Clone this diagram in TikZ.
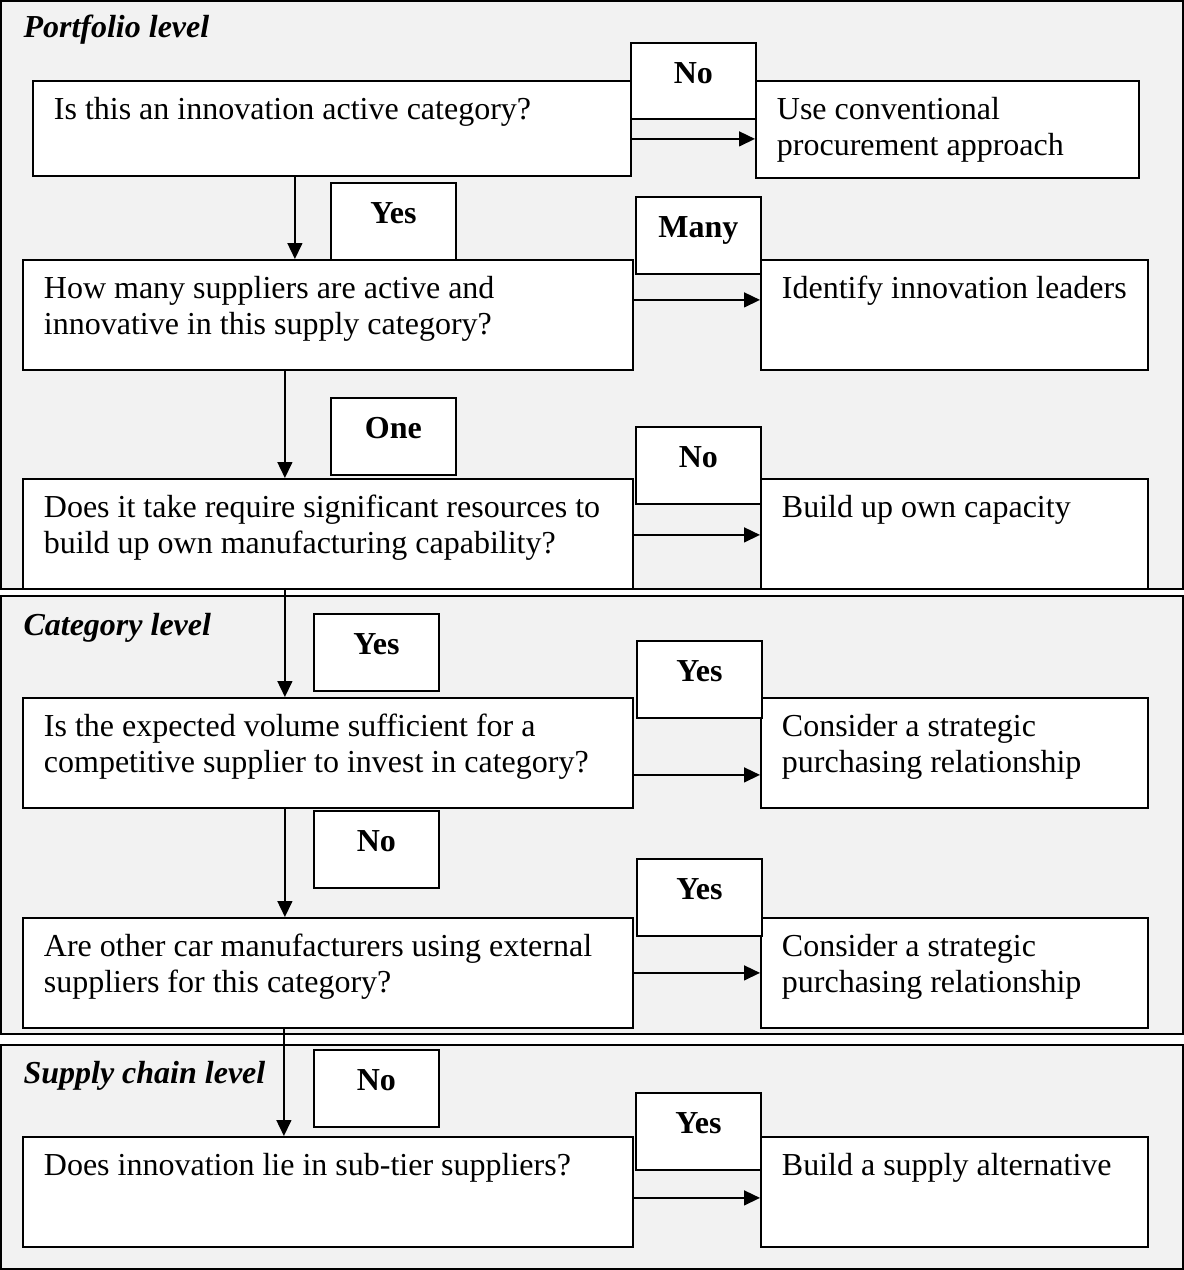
\documentclass[tikz,border=0pt]{standalone}
\usepackage{fontspec}
\setmainfont{Liberation Serif}
\usetikzlibrary{arrows.meta}
\definecolor{panelgray}{HTML}{F2F2F2}
\begin{document}
\begin{tikzpicture}[x=1pt, y=-1pt,
      every node/.style={font=\fontsize{32}{36}\selectfont},
      panel/.style={draw, fill=panelgray, line width=1.5pt},
      levelname/.style={anchor=base west, font=\fontsize{32}{36}\selectfont\bfseries\itshape},
      question/.style={draw, fill=white, line width=1.8pt, anchor=north west, inner xsep=21pt,
        inner ysep=0pt, align=flush left, text width=568pt, text height=39pt, text depth=71pt},
      answer/.style={question, text width=345pt},
      choice/.style={draw, fill=white, line width=1.8pt, anchor=north west, inner sep=0pt,
        align=flush center, text width=125pt, text height=41pt, text depth=36pt,
        font=\fontsize{32}{36}\selectfont\bfseries},
      flow/.style={-{Triangle[length=16pt,width=15pt]}, line width=1.5pt}
    ]
    \useasboundingbox (0,0) rectangle (1184,1270);

    % Level panels
    \draw[panel] (1,1) rectangle (1183,589);
    \draw[panel] (1,596) rectangle (1183,1034);
    \draw[panel] (1,1045) rectangle (1183,1269);
    \node[levelname] (lv1) at (20,37) {Portfolio level};
    \node[levelname] (lv2) at (20,635) {Category level};
    \node[levelname] (lv3) at (20,1083) {Supply chain level};

    % Portfolio level
    \node[question, text width=556pt, text depth=56pt] (q1) at (32,80)
      {Is this an innovation active category?};
    \node[answer, text width=341pt, text depth=58pt] (a1) at (755,80)
      {Use conventional\\procurement approach};
    \node[question] (q2) at (22,259) {How many suppliers are active and\\innovative in this supply category?};
    \node[answer] (a2) at (760,259) {\mbox{Identify innovation leaders}};
    \node[question] (q3) at (22,478) {Does it take require significant resources to\\build up own manufacturing capability?};
    \node[answer] (a3) at (760,478) {Build up own capacity};

    % Category level
    \node[question] (q4) at (22,697) {Is the expected volume sufficient for a\\\mbox{competitive supplier to invest in category?}};
    \node[answer] (a4) at (760,697) {Consider a strategic\\purchasing relationship};
    \node[question] (q5) at (22,917) {Are other car manufacturers using external\\suppliers for this category?};
    \node[answer] (a5) at (760,917) {Consider a strategic\\purchasing relationship};

    % Supply chain level
    \node[question] (q6) at (22,1136) {Does innovation lie in sub-tier suppliers?};
    \node[answer] (a6) at (760,1136) {Build a supply alternative};

    % Decision labels
    \node[choice, text depth=35pt] (c1) at (630,42) {No};
    \node[choice] (c2) at (330,182) {Yes};
    \node[choice] (c3) at (635,196) {Many};
    \node[choice] (c4) at (330,397) {One};
    \node[choice] (c5) at (635,426) {No};
    \node[choice] (c6) at (313,613) {Yes};
    \node[choice] (c7) at (636,640) {Yes};
    \node[choice] (c8) at (313,810) {No};
    \node[choice] (c9) at (636,858) {Yes};
    \node[choice] (c10) at (313,1049) {No};
    \node[choice] (c11) at (635,1092) {Yes};

    % Flow down
    \draw[flow] ([xshift=-37pt]q1.south) -- ([xshift=-37pt]q1.south |- q2.north);
    \draw[flow] ([xshift=-43pt]q2.south) -- ([xshift=-43pt]q2.south |- q3.north);
    \draw[flow] ([xshift=-43pt]q3.south) -- ([xshift=-43pt]q3.south |- q4.north);
    \draw[flow] ([xshift=-43pt]q4.south) -- ([xshift=-43pt]q4.south |- q5.north);
    \draw[flow] ([xshift=-44pt]q5.south) -- ([xshift=-44pt]q5.south |- q6.north);

    % Flow across
    \draw[flow] ([yshift=-10.5pt]q1.east) -- ([yshift=-10.5pt]q1.east -| a1.west);
    \draw[flow] ([yshift=15pt]q2.east) -- ([yshift=15pt]q2.east -| a2.west);
    \draw[flow] ([yshift=-1pt]q3.east) -- ([yshift=-1pt]q3.east -| a3.west);
    \draw[flow] ([yshift=-22pt]q4.east) -- ([yshift=-22pt]q4.east -| a4.west);
    \draw[flow] (q5.east) -- (q5.east -| a5.west);
    \draw[flow] ([yshift=-6pt]q6.east) -- ([yshift=-6pt]q6.east -| a6.west);
  \end{tikzpicture}
\end{document}
